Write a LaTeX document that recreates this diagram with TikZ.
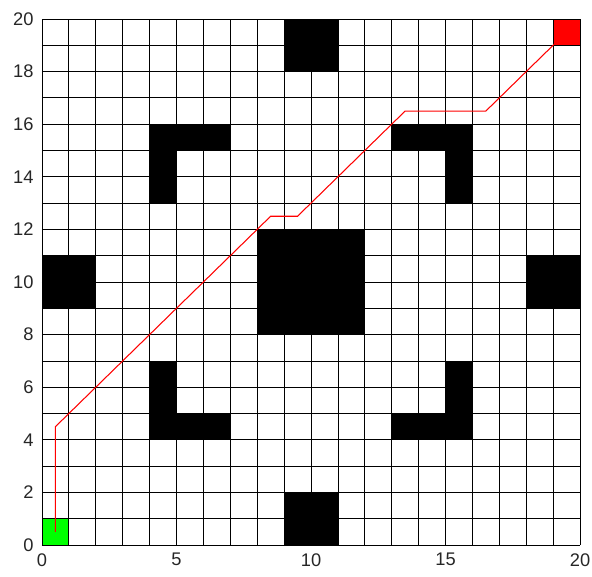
\documentclass[tikz,border=0pt]{standalone}
\usepackage{fontspec}
\setmainfont{Liberation Sans}
\usepackage{tikz}
\usetikzlibrary{positioning}
\definecolor{startcell}{RGB}{0, 255, 0}
\definecolor{goalcell}{RGB}{255, 0, 0}
\definecolor{axistext}{RGB}{38, 38, 38}

\begin{document}
\begin{tikzpicture}[x=0.538cm, y=0.526cm,
    obstacle/.style={fill=black},
    gridline/.style={black, line width=0.45pt},
    cell/.style={rectangle, inner sep=0pt, minimum width=0.538cm, minimum height=0.526cm},
    route/.style={red, line width=0.6pt},
    ticklabel/.style={text=axistext, inner sep=0pt, font=\fontsize{10.4}{12}\selectfont}
]
    \useasboundingbox (-1.561,-1.179) rectangle (20.446,20.722);

    % Obstacles
    \foreach \x/\y/\w/\h in {9/18/2/2, 9/0/2/2, 0/9/2/2, 18/9/2/2, 8/8/4/4,
                             4/15/3/1, 4/13/1/2, 13/15/3/1, 15/13/1/2,
                             4/4/3/1, 4/5/1/2, 13/4/3/1, 15/5/1/2}
        \fill[obstacle] (\x,\y) rectangle ++(\w,\h);

    % Start and goal
    \node[cell, fill=startcell] (start) at (0.5,0.5) {};
    \node[cell, fill=goalcell] (goal) at (19.5,19.5) {};

    % Grid
    \foreach \i in {0,...,20} {
        \draw[gridline] (\i,0) -- (\i,20);
        \draw[gridline] (0,\i) -- (20,\i);
    }

    % Path
    \coordinate (p1) at (0.5,4.5);
    \coordinate (p2) at (8.5,12.5);
    \coordinate (p3) at (9.5,12.5);
    \coordinate (p4) at (13.5,16.5);
    \coordinate (p5) at (16.5,16.5);
    \draw[route] (start.center) -- (p1) -- (p2) -- (p3) -- (p4) -- (p5) -- (goal.center);

    % Axis labels
    \foreach \v in {0,5,...,20}
        \node[ticklabel, anchor=north] (xlab\v) at (\v,-0.3) {\v};
    \foreach \v in {0,2,...,20}
        \node[ticklabel, anchor=east] (ylab\v) at (-0.3,\v) {\v};
\end{tikzpicture}
\end{document}
